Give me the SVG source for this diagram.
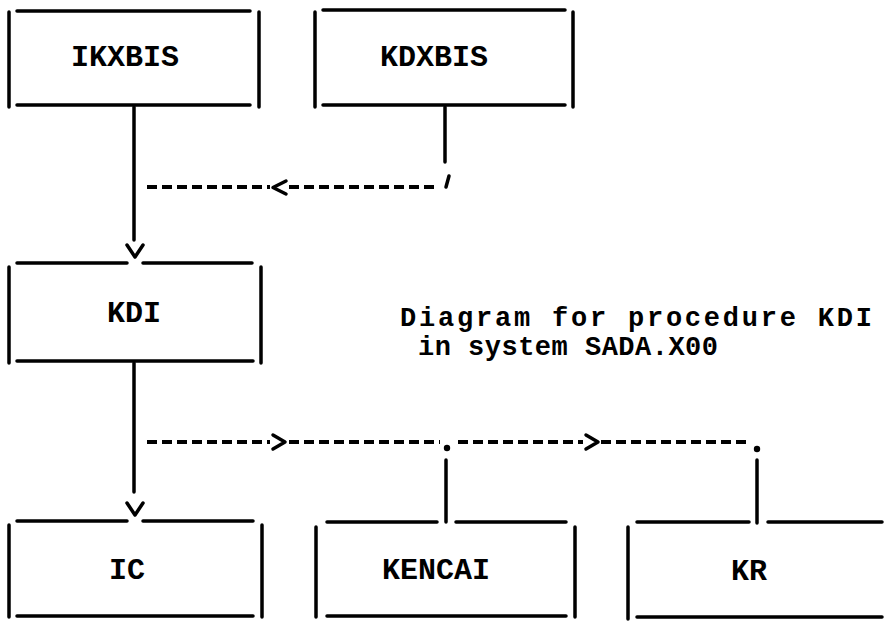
<svg xmlns="http://www.w3.org/2000/svg" width="888" height="621" viewBox="0 0 888 621">
<style>
  .b { stroke:#000; stroke-width:3.5; stroke-linecap:round; fill:none; }
  .c { stroke:#000; stroke-width:3.5; stroke-linecap:round; fill:none; }
  .d { stroke:#000; stroke-width:4; stroke-dasharray:10 5; fill:none; }
  .h { stroke:#000; stroke-width:3.5; stroke-linecap:round; stroke-linejoin:round; fill:none; }
  .t { font-family:"Liberation Mono","Courier New",monospace; font-weight:bold; font-size:30px; fill:#000; }
  .cap { font-size:27px; }
  .m { text-anchor:middle; }
</style>
<rect width="888" height="621" fill="#fff"/>
<g id="IKXBIS">
  <path class="b" d="M17 11H250M17 105H250M9 12V107M259 12V107"/>
  <text class="t m" x="125" y="66">IKXBIS</text>
</g>
<g id="KDXBIS">
  <path class="b" d="M323 10H565M323 105H565M315 12V107M573 12V107"/>
  <text class="t m" x="434" y="66">KDXBIS</text>
</g>
<g id="KDI">
  <path class="b" d="M17 263H127M143 263H252M17 361H253M9 267V363M261 267V363"/>
  <text class="t m" x="134" y="322">KDI</text>
</g>
<g id="IC">
  <path class="b" d="M17 521H127M143 521H253M17 616H253M9 525V617M262 525V617"/>
  <text class="t m" x="127" y="579">IC</text>
</g>
<g id="KENCAI">
  <path class="b" d="M327 522H437M456 522H566M327 616H566M316 527V617M575 527V617"/>
  <text class="t m" x="436" y="579">KENCAI</text>
</g>
<g id="KR">
  <path class="b" d="M637 522H749M768 522H882M637 617H882M628 527V619"/>
  <text class="t m" x="749" y="580">KR</text>
</g>
<g id="connectors">
  <path class="c" d="M134 107V240"/>
  <path class="h" d="M127 245L135 257L143 245"/>
  <path class="c" d="M445 107V162"/>
  <path class="d" d="M147 187H270M289 187H436"/>
  <path class="h" d="M286 181L273 187.5L286 194"/>
  <path class="c" d="M449 176L446 187"/>
  <path class="c" d="M134 363V492"/>
  <path class="h" d="M127 503L135 515L143 503"/>
  <path class="d" d="M147 442H270M289 442H440"/>
  <path class="h" d="M273 435L285 442L273 449"/>
  <circle cx="447" cy="448" r="3.2" fill="#000"/>
  <path class="c" d="M446 460V522"/>
  <path class="d" d="M458 442H583M601 442H747"/>
  <path class="h" d="M586 435L598 442L586 449"/>
  <circle cx="757" cy="449" r="3.2" fill="#000"/>
  <path class="c" d="M757 460V523"/>
</g>
<g id="caption">
  <text class="t cap" x="400" y="326" textLength="472" lengthAdjust="spacing">Diagram for procedure KDI</text>
  <text class="t cap" x="418" y="355" textLength="300" lengthAdjust="spacing">in system SADA.X00</text>
</g>
</svg>
